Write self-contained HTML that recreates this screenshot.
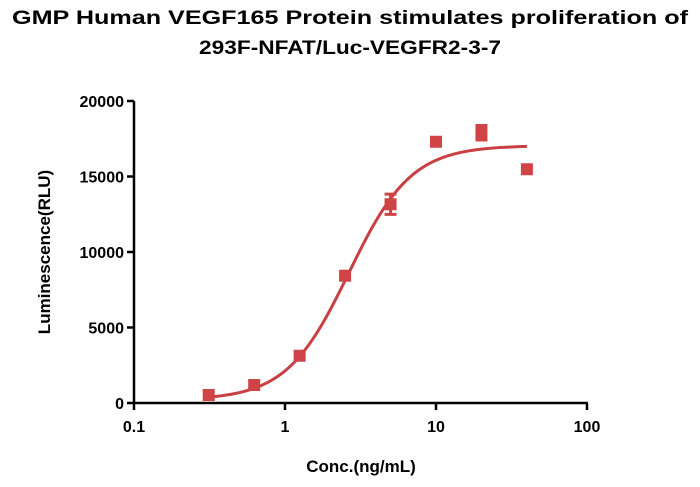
<!DOCTYPE html>
<html><head><meta charset="utf-8"><style>
html,body{margin:0;padding:0;background:#fff;}
svg{display:block;font-family:"Liberation Sans",sans-serif;font-weight:bold;}
</style></head><body>
<svg id="chart" width="700" height="487" viewBox="0 0 700 487" xmlns="http://www.w3.org/2000/svg">
<text x="350" y="24" text-anchor="middle" font-size="19" textLength="676" lengthAdjust="spacingAndGlyphs">GMP Human VEGF165 Protein stimulates proliferation of</text>
<text x="350" y="54" text-anchor="middle" font-size="19" textLength="302" lengthAdjust="spacingAndGlyphs">293F-NFAT/Luc-VEGFR2-3-7</text>
<g id="axes"></g>
<g id="marks"></g>
<text x="361" y="472" text-anchor="middle" font-size="17">Conc.(ng/mL)</text>
<text transform="translate(50,252) rotate(-90)" text-anchor="middle" font-size="17">Luminescence(RLU)</text>
</svg>
<script>
const concentrations=[0.3125,0.625,1.25,2.5,5,10,20,40];
const luminescence=[530,1190,3130,8430,13160,17300,17900,15480];
const errors=[100,100,100,100,670,200,480,100];
const xTickLabels=["0.1","1","10","100"];
const xTickValues=[0.1,1,10,100];
const yTickValues=[0,5000,10000,15000,20000];
const fitBottom=200, fitTop=17050, fitEC50=2.65, fitHill=2.1;

const NS="http://www.w3.org/2000/svg";
const X0=134,X1=587,Y0=403,Y1=101;
function xs(v){return X0+(Math.log10(v)+1)/3*(X1-X0);}
function ys(v){return Y0-v/20000*(Y0-Y1);}
function mk(tag,attrs,parent){const e=document.createElementNS(NS,tag);for(const k in attrs)e.setAttribute(k,attrs[k]);parent.appendChild(e);return e;}
const axes=document.getElementById('axes'),marks=document.getElementById('marks');
let a=mk('line',{x1:X0,y1:Y0,x2:X1+1,y2:Y0,stroke:'#000','stroke-width':2.5},axes);


a=mk('line',{x1:X0,y1:Y0+1,x2:X0,y2:Y1,stroke:'#000','stroke-width':2.5},axes);


xTickValues.forEach((v,i)=>{
  const x=xs(v);
  const t=mk('line',{x1:x,y1:Y0,x2:x,y2:Y0+7,stroke:'#000','stroke-width':2.5},axes);
  
  
  const l=mk('text',{x:x,y:Y0+29,'text-anchor':'middle','font-size':16},axes);
  l.textContent=xTickLabels[i];
  
  
});
yTickValues.forEach(v=>{
  const y=ys(v);
  const t=mk('line',{x1:X0-7,y1:y,x2:X0,y2:y,stroke:'#000','stroke-width':2.5},axes);
  
  
  const l=mk('text',{x:X0-10,y:y+6,'text-anchor':'end','font-size':16},axes);
  l.textContent=String(v);
  
  
});
let d='';
const lo=Math.log10(concentrations[0]),hi=Math.log10(concentrations[concentrations.length-1]);
for(let i=0;i<=120;i++){
  const c=Math.pow(10,lo+(hi-lo)*i/120);
  const r=Math.pow(c/fitEC50,fitHill);
  const v=fitBottom+(fitTop-fitBottom)*r/(1+r);
  d+=(i?'L':'M')+xs(c).toFixed(2)+','+ys(v).toFixed(2);
}
const curve=mk('path',{d:d,fill:'none',stroke:'#c84044','stroke-width':3},marks);


concentrations.forEach((c,i)=>{
  const x=xs(c),y=ys(luminescence[i]);
  const e=errors[i];
  if(e>150){
    const g=mk('path',{d:`M${x},${ys(luminescence[i]+e)}V${ys(luminescence[i]-e)}M${x-6},${ys(luminescence[i]+e)}H${x+6}M${x-6},${ys(luminescence[i]-e)}H${x+6}`,stroke:'#d04448','stroke-width':3,fill:'none'},marks);
    
    
  }
  const p=mk('rect',{x:x-6,y:y-6,width:12,height:12,fill:'#d04448'},marks);
  
  
});
</script>
</body></html>
